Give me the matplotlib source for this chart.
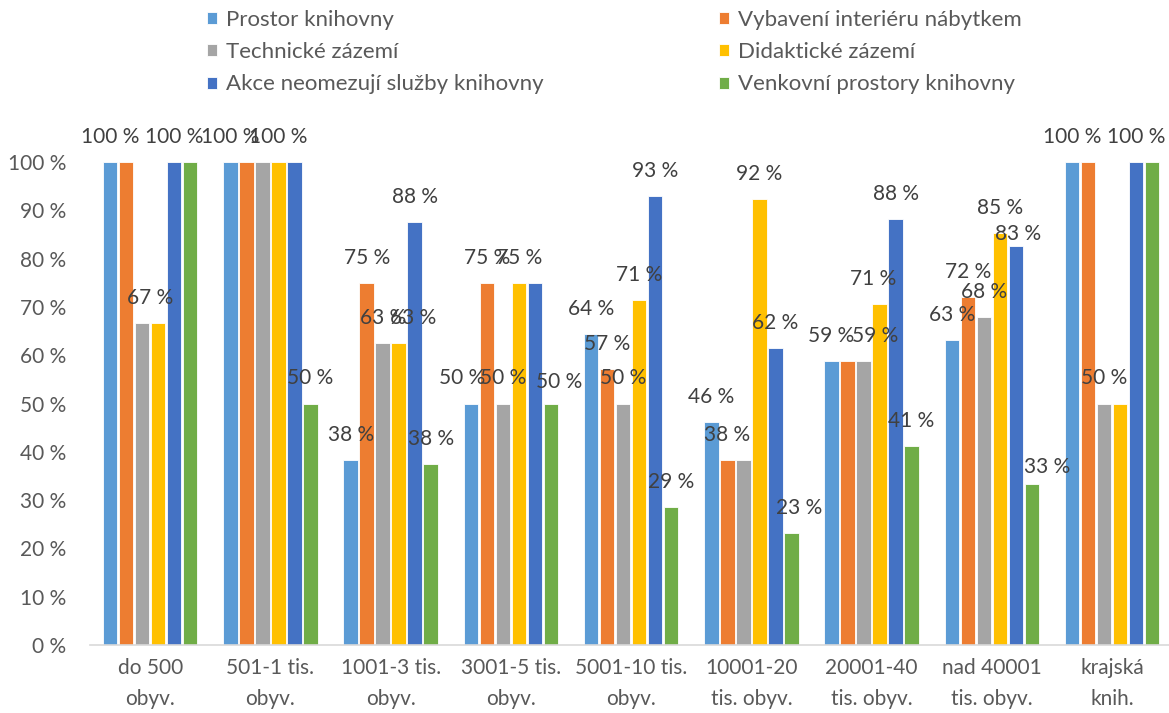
"""Knihovny - podíl odpovědí podle velikosti obce (sloupcový graf)."""

import numpy as np
import matplotlib
matplotlib.use("Agg")
import matplotlib.pyplot as plt

plt.rcParams['font.family'] = ['Lato', 'DejaVu Sans']

# Data
groups = ["do 500\nobyv.", "501-1 tis.\nobyv.", "1001-3 tis.\nobyv.",
          "3001-5 tis.\nobyv.", "5001-10 tis.\nobyv.", "10001-20\ntis. obyv.",
          "20001-40\ntis. obyv.", "nad 40001\ntis. obyv.", "krajská\nknih."]

series_names = ["Prostor knihovny", "Vybavení interiéru nábytkem",
                "Technické zázemí", "Didaktické zázemí",
                "Akce neomezují služby knihovny", "Venkovní prostory knihovny"]

prostor = [100, 100, 38.3, 50, 64.3, 46.2, 58.8, 63.2, 100]
vybaveni = [100, 100, 75, 75, 57.1, 38.4, 58.8, 72.0, 100]
technicke = [66.7, 100, 62.5, 50, 50, 38.4, 58.8, 68.0, 50]
didakticke = [66.7, 100, 62.5, 75, 71.4, 92.3, 70.6, 85.3, 50]
akce = [100, 100, 87.5, 75, 92.9, 61.5, 88.2, 82.6, 100]
venkovni = [100, 50, 37.5, 50, 28.6, 23.1, 41.2, 33.3, 100]

values = [prostor, vybaveni, technicke, didakticke, akce, venkovni]
colors = ["#5B9BD5", "#ED7D31", "#A5A5A5", "#FFC000", "#4472C4", "#70AD47"]

# data labels that the original chart does not show (series, group)
hidden = {(1, 0), (3, 0), (5, 0),
          (1, 1), (2, 1), (4, 1),
          (4, 3),
          (2, 5),
          (1, 6),
          (1, 8), (3, 8), (5, 8)}
# label shifts in pixels (dx, dy)
shifts = {(2, 0): (8, 0), (3, 2): (14, 0), (0, 3): (-9, 0), (5, 3): (8, -3),
          (5, 5): (8, 0), (2, 6): (12, 0), (3, 6): (-6, 0),
          (4, 7): (2, -13), (5, 7): (15, -8)}

W, H = 1169, 713
fig = plt.figure(figsize=(W / 100, H / 100), dpi=100)
ax = fig.add_axes([90 / W, (H - 645) / H, (W - 90) / W, (645 - 162) / H])

x = np.arange(len(groups))
step = 16 / 120.25
px = 0.72  # points per pixel

for i, vals in enumerate(values):
    pos = x + (i - 2.5) * step
    ax.bar(pos, vals, width=step * 0.92, color=colors[i],
           edgecolor="white", linewidth=0.6, label=series_names[i])
    for j, v in enumerate(vals):
        if (i, j) in hidden:
            continue
        dx, dy = shifts.get((i, j), (0, 0))
        ax.annotate(f"{int(v + 0.5)} %", (pos[j], v),
                    xytext=(dx * px, (25 + dy) * px),
                    textcoords="offset points", ha="center", va="center",
                    fontsize=15, color="#404040", annotation_clip=False)

ax.set_xlim(-0.5, -0.5 + (W - 90) / 120.25)
ax.set_ylim(0, 100)
ax.set_yticks(np.arange(0, 101, 10))
ax.set_yticklabels([f"{t} %" for t in range(0, 101, 10)])
ax.set_xticks(x)
ax.set_xticklabels(groups, linespacing=1.7)
ax.tick_params(axis="y", length=0, pad=17, labelsize=15, labelcolor="#595959")
ax.tick_params(axis="x", length=0, pad=9, labelsize=15, labelcolor="#595959")

for s in ["top", "right", "left"]:
    ax.spines[s].set_visible(False)
ax.spines["bottom"].set_color("#D9D9D9")
ax.spines["bottom"].set_linewidth(1.2)

# legend in two columns, row-major order as in the original
handles, labels = ax.get_legend_handles_labels()
leg_kw = dict(frameon=False, fontsize=16, labelcolor="#595959",
              handlelength=0.45, handleheight=0.45, handletextpad=0.4,
              labelspacing=0.55, borderaxespad=0, borderpad=0)
fig.legend([handles[k] for k in (0, 2, 4)], [labels[k] for k in (0, 2, 4)],
           loc="upper left", bbox_to_anchor=(207 / W, 1 - 10 / H), **leg_kw)
fig.legend([handles[k] for k in (1, 3, 5)], [labels[k] for k in (1, 3, 5)],
           loc="upper left", bbox_to_anchor=(719 / W, 1 - 10 / H), **leg_kw)

fig.savefig("out.png", dpi=100)
